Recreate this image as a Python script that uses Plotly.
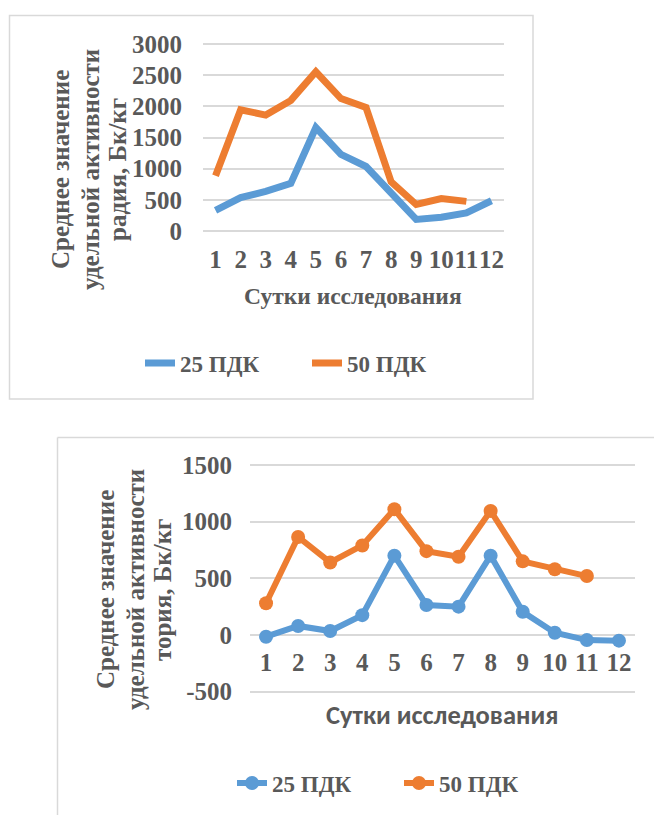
import plotly.graph_objects as go

# Study days (shared by both charts)
days = list(range(1, 13))
day_labels = [str(d) for d in days]

# Radium: mean specific activity, Bq/kg
radium_25 = [330, 535, 635, 765, 1660, 1230, 1035, 600, 185, 220, 290, 485]
radium_50 = [885, 1945, 1860, 2095, 2555, 2125, 1980, 790, 425, 520, 475]
radium_ticks = [0, 500, 1000, 1500, 2000, 2500, 3000]

# Thorium: mean specific activity, Bq/kg
thorium_25 = [-15, 80, 35, 175, 700, 265, 250, 700, 205, 20, -45, -50]
thorium_50 = [280, 865, 640, 790, 1110, 740, 690, 1095, 650, 580, 520]
thorium_ticks = [-500, 0, 500, 1000, 1500]
thorium_tick_labels = ["-500", "0", "500", "1000", "1500"]

series_names = ["25 ПДК", "50 ПДК"]
radium_title = ["Среднее значение", "удельной активности", "радия, Бк/кг"]
thorium_title = ["Среднее значение", "удельной активности", "тория, Бк/кг"]
x_title = "Сутки исследования"

blue = "#5B9BD5"
orange = "#ED7D31"
text_grey = "#595959"
grid_grey = "#D9D9D9"

W, H = 654, 815
serif = "Liberation Serif"
sans = "Carlito"


def px(x):
    return x / W


def py(y):
    return (H - y) / H


fig = go.Figure()

# --- Radium chart (lines only) ---
fig.add_trace(go.Scatter(x=days[:len(radium_25)], y=radium_25, name=series_names[0],
                         mode="lines", line=dict(color=blue, width=7),
                         xaxis="x", yaxis="y", legend="legend"))
fig.add_trace(go.Scatter(x=days[:len(radium_50)], y=radium_50, name=series_names[1],
                         mode="lines", line=dict(color=orange, width=7),
                         xaxis="x", yaxis="y", legend="legend"))

# --- Thorium chart (lines with markers) ---
fig.add_trace(go.Scatter(x=days[:len(thorium_25)], y=thorium_25, name=series_names[0],
                         mode="lines+markers", line=dict(color=blue, width=6),
                         marker=dict(size=14, color=blue),
                         xaxis="x2", yaxis="y2", legend="legend2"))
fig.add_trace(go.Scatter(x=days[:len(thorium_50)], y=thorium_50, name=series_names[1],
                         mode="lines+markers", line=dict(color=orange, width=6),
                         marker=dict(size=14, color=orange),
                         xaxis="x2", yaxis="y2", legend="legend2"))

tick_font = dict(family=serif, size=25, color=text_grey, weight="bold")

# pixel geometry of the two plot areas
r_x0, r_x1 = 203, 504
r_top_val, r_top_px, r_zero_px = 3000, 44, 231
r_scale = (r_zero_px - r_top_px) / r_top_val
r_lo, r_hi = -60, 3060
r_y_bottom = r_zero_px + (0 - r_lo) * r_scale
r_y_top = r_zero_px - r_hi * r_scale

t_x0, t_x1 = 250, 635
t_zero_px, t_top_px, t_top_val = 635, 465, 1500
t_scale = (t_zero_px - t_top_px) / t_top_val
t_lo, t_hi = -530, 1530
t_y_bottom = t_zero_px - t_lo * t_scale
t_y_top = t_zero_px - t_hi * t_scale

common_x = dict(range=[0.5, 12.5], tickvals=days, ticktext=day_labels, tickangle=0,
                showgrid=False, zeroline=False, showline=False, tickfont=tick_font,
                automargin=False, fixedrange=True)
common_y = dict(showgrid=True, gridcolor=grid_grey, gridwidth=2, zeroline=False,
                showline=False, tickfont=tick_font, automargin=False, fixedrange=True)

legend_common = dict(orientation="h", xanchor="left", yanchor="middle",
                     entrywidth=122, entrywidthmode="pixels",
                     font=dict(family=serif, size=23, color=text_grey, weight="bold"),
                     bgcolor="rgba(0,0,0,0)", itemclick=False, itemdoubleclick=False)

annotations = []
# rotated three-line axis titles
for text, xc in zip(radium_title, [60, 90, 117]):
    annotations.append(dict(text=text, xref="paper", yref="paper", x=px(xc), y=py(170),
                            textangle=-90, xanchor="center", yanchor="middle",
                            showarrow=False,
                            font=dict(family=serif, size=25, color=text_grey,
                                      weight="bold")))
for text, xc in zip(thorium_title, [105, 135, 162]):
    annotations.append(dict(text=text, xref="paper", yref="paper", x=px(xc), y=py(590),
                            textangle=-90, xanchor="center", yanchor="middle",
                            showarrow=False,
                            font=dict(family=serif, size=25, color=text_grey,
                                      weight="bold")))
annotations.append(dict(text=x_title, xref="paper", yref="paper", x=px(353), y=py(296),
                        xanchor="center", yanchor="middle", showarrow=False,
                        font=dict(family=serif, size=23.5, color=text_grey,
                                  weight="bold")))
annotations.append(dict(text=x_title, xref="paper", yref="paper", x=px(442), y=py(715),
                        xanchor="center", yanchor="middle", showarrow=False,
                        font=dict(family=sans, size=26.5, color=text_grey, weight="bold")))

fig.update_layout(
    width=W, height=H,
    margin=dict(l=0, r=0, t=0, b=0, autoexpand=False),
    paper_bgcolor="white", plot_bgcolor="white",
    hovermode=False,
    xaxis=dict(domain=[px(r_x0), px(r_x1)], anchor="y", ticklabelstandoff=7, **common_x),
    yaxis=dict(domain=[py(r_y_bottom), py(r_y_top)], anchor="x", range=[r_lo, r_hi],
               tickvals=radium_ticks, ticklabelstandoff=20, **common_y),
    xaxis2=dict(domain=[px(t_x0), px(t_x1)], anchor="free", position=py(t_zero_px),
                ticklabelstandoff=10, **common_x),
    yaxis2=dict(domain=[py(t_y_bottom), py(t_y_top)], anchor="x2", range=[t_lo, t_hi],
                tickvals=thorium_ticks, ticktext=thorium_tick_labels,
                ticklabelstandoff=17, **common_y),
    legend=dict(x=px(140), y=py(363), **legend_common),
    legend2=dict(x=px(232), y=py(783), **legend_common),
    shapes=[
        dict(type="rect", xref="paper", yref="paper", x0=px(9.5), x1=px(533), y0=py(399),
             y1=py(15.5), line=dict(color=grid_grey, width=1.5), layer="below"),
        dict(type="line", xref="paper", yref="paper", x0=px(57.5), x1=1.0, y0=py(437.5),
             y1=py(437.5), line=dict(color=grid_grey, width=1.5), layer="below"),
        dict(type="line", xref="paper", yref="paper", x0=px(57.5), x1=px(57.5), y0=0,
             y1=py(437.5), line=dict(color=grid_grey, width=1.5), layer="below"),
    ],
    annotations=annotations,
)

fig.write_html("out.html")
